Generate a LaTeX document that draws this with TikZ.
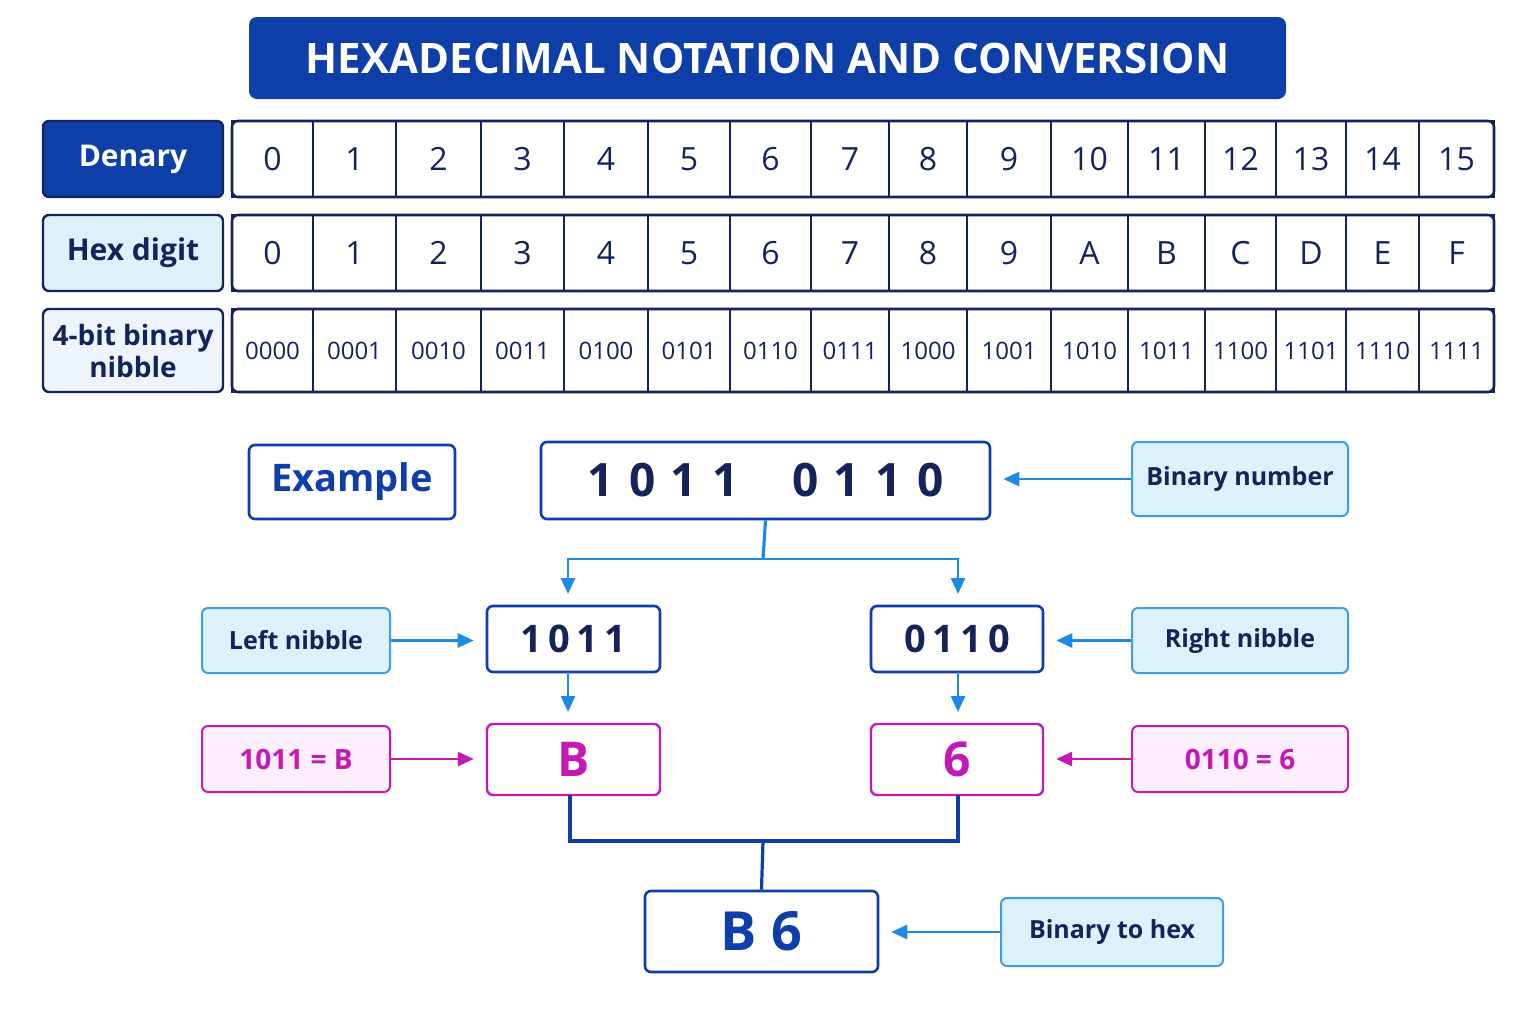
\documentclass[tikz,border=0pt]{standalone}
\usepackage{fontspec}
\setmainfont{Open Sans}
\usetikzlibrary{arrows.meta}
\definecolor{navy}{HTML}{14245A}
\definecolor{dblue}{HTML}{0E3EA8}
\definecolor{lfill}{HTML}{DDF1FB}
\definecolor{lline}{HTML}{3A9FE6}
\definecolor{arr}{HTML}{1E88E5}
\definecolor{pink}{HTML}{C41AB5}
\definecolor{pfill}{HTML}{FCEFFB}
\definecolor{gfill}{HTML}{EEF4FC}
\newcommand\bx[7]{\pgfmathsetmacro\bw{(#4-#2)*0.5}\pgfmathsetmacro\bh{(#5-#3)*0.5}%
\node[#6,minimum width=\bw pt,minimum height=\bh pt] (#1) at ({(#2+#4)/2},{(#3+#5)/2}) {#7};}
\begin{document}
\begin{tikzpicture}[x=0.5pt,y=-0.5pt,
 every node/.style={inner sep=0pt,align=center,text=navy},
 cell/.style={draw=navy,line width=0.9pt,font=\fontsize{16}{18}\selectfont},
 bcell/.style={cell,font=\fontsize{12}{14}\selectfont},
 dbox/.style={draw=navy,line width=1.2pt,rounded corners=3pt,fill=dblue,text=white,font=\bfseries\fontsize{15}{17}\selectfont},
 lbox/.style={draw=navy,line width=1.2pt,rounded corners=3pt,fill=lfill,font=\bfseries\fontsize{15}{17}\selectfont},
 gbox/.style={draw=navy,line width=1.2pt,rounded corners=3pt,fill=gfill,font=\bfseries\fontsize{14}{16}\selectfont},
 nbox/.style={draw=dblue,line width=1.3pt,rounded corners=3pt,fill=white,text=navy,font=\bfseries\fontsize{19}{22}\selectfont},
 note/.style={draw=lline,line width=1pt,rounded corners=3pt,fill=lfill,text=navy,font=\bfseries\fontsize{12.5}{15}\selectfont},
 pnote/.style={draw=pink,line width=1pt,rounded corners=3pt,fill=pfill,text=pink,font=\bfseries\fontsize{14}{16}\selectfont},
 pbox/.style={draw=pink,line width=1.2pt,rounded corners=3pt,fill=white,text=pink,font=\bfseries\fontsize{24}{26}\selectfont},
 ar/.style={draw=arr,line width=1.4pt,-{Triangle[length=8pt,width=7pt]},shorten >=6pt},
 pa/.style={draw=pink,line width=1.4pt,-{Triangle[length=8pt,width=7pt]},shorten >=6pt},
 ln/.style={draw=arr,line width=1.6pt},
 ln2/.style={draw=dblue,line width=1.6pt}]
\useasboundingbox (0,0) rectangle (1536,1024);
\fill[white] (0,0) rectangle (1536,1024);
\bx{title}{249}{17}{1286}{99}{draw=none,fill=dblue,rounded corners=4pt,text=white,font=\bfseries\fontsize{21}{24}\selectfont}{HEXADECIMAL NOTATION AND CONVERSION}
\bx{lden}{43}{121}{223}{197}{dbox}{Denary}
\bx{lhex}{43}{215}{223}{291}{lbox}{Hex digit}
\bx{lbin}{43}{309}{223}{392}{gbox}{4-bit binary\\nibble}
\def\xs{{232,313,396,481,564,648,730,811,889,967,1051,1128,1205,1276,1346,1419,1494}}
\foreach \d/\h/\b [count=\i from 0] in {0/0/0000,1/1/0001,2/2/0010,3/3/0011,4/4/0100,5/5/0101,6/6/0110,7/7/0111,8/8/1000,9/9/1001,10/A/1010,11/B/1011,12/C/1100,13/D/1101,14/E/1110,15/F/1111}{
 \pgfmathsetmacro\xa{\xs[\i]}\pgfmathsetmacro\xb{\xs[\i+1]}
 \bx{d\i}{\xa}{121}{\xb}{197}{cell}{\d}
 \bx{h\i}{\xa}{215}{\xb}{291}{cell}{\h}
 \bx{b\i}{\xa}{309}{\xb}{392}{bcell}{\b}
}
\foreach \ya/\yb in {121/197,215/291,309/392}
 \draw[navy,line width=1.3pt,rounded corners=3pt] (232,\ya) rectangle (1494,\yb);
\bx{ex}{249}{445}{455}{519}{nbox,text=dblue}{Example}
\bx{bn}{541}{442}{990}{519}{nbox,font=\bfseries\fontsize{23}{26}\selectfont}{1\,\,0\,\,1\,\,1\quad\,0\,\,1\,\,1\,\,0}
\bx{bnn}{1132}{442}{1348}{516}{note}{Binary number}
\bx{ln}{202}{608}{390}{673}{note}{Left nibble}
\bx{l4}{487}{606}{660}{672}{nbox}{1\,0\,1\,1}
\bx{r4}{871}{606}{1043}{672}{nbox}{0\,1\,1\,0}
\bx{rn}{1132}{608}{1348}{673}{note}{Right nibble}
\bx{lp}{202}{726}{390}{792}{pnote}{1011 = B}
\bx{lB}{487}{724}{660}{795}{pbox}{B}
\bx{r6}{871}{724}{1043}{795}{pbox}{6}
\bx{rp}{1132}{726}{1348}{792}{pnote}{0110 = 6}
\bx{res}{645}{891}{878}{972}{nbox,text=dblue,font=\bfseries\fontsize{27}{29}\selectfont}{B\;6}
\bx{bth}{1001}{898}{1223}{966}{note}{Binary to hex}
\coordinate (s) at (763,559);
\draw[ln] (bn.south) -- (s);
\draw[ar] (s) -| (568,606);
\draw[ar] (s) -| (958,606);
\draw[ar] (bnn.west) -- (bn.east |- bnn.west);
\draw[ar] (ln.east) -- (l4.west |- ln.east);
\draw[ar] (rn.west) -- (r4.east |- rn.west);
\draw[ar] (568,672) -- (568,724);
\draw[ar] (958,672) -- (958,724);
\draw[pa] (lp.east) -- (lB.west |- lp.east);
\draw[pa] (rp.west) -- (r6.east |- rp.west);
\draw[ln2] (570,795) |- (763,841) -| (958,795);
\draw[ln2] (763,841) -- (res.north);
\draw[ar] (bth.west) -- (res.east |- bth.west);
\end{tikzpicture}
\end{document}
